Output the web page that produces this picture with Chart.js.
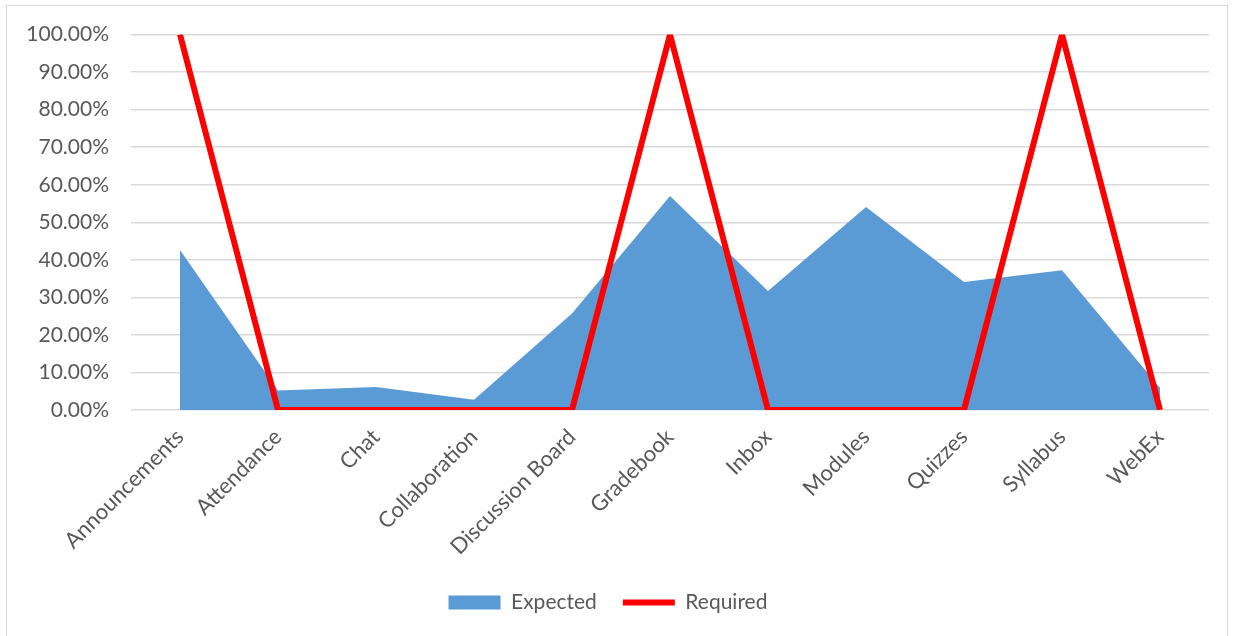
<!DOCTYPE html>
<html>
<head>
<meta charset="utf-8">
<script src="https://cdn.jsdelivr.net/npm/chart.js@4.4.1/dist/chart.umd.min.js"></script>
<style>
  body { margin: 0; background: #fff; }
  #box {
    position: absolute; left: 6px; top: 5px; width: 1222px; height: 640px;
    border: 1px solid #d9d9d9; box-sizing: border-box;
  }
  #wrap { position: absolute; left: 0; top: 0; width: 1220px; height: 638px; }
</style>
</head>
<body>
<div id="box"><div id="wrap"><canvas id="chart"></canvas></div></div>
<script>
// Données du graphique
const categories = ['Announcements', 'Attendance', 'Chat', 'Collaboration', 'Discussion Board',
    'Gradebook', 'Inbox', 'Modules', 'Quizzes', 'Syllabus', 'WebEx'];
const expected = [0.426, 0.052, 0.061, 0.027, 0.257, 0.570, 0.317, 0.541, 0.341, 0.372, 0.059];
const required = [1, 0, 0, 0, 0, 1, 0, 0, 0, 1, 0];

const textColor = '#595959';
const font = "Lato, 'Open Sans', sans-serif";

new Chart(document.getElementById('chart'), {
    type: 'line',
    data: {
        labels: categories,
        datasets: [{
            label: 'Expected',
            data: expected,
            fill: 'origin',
            backgroundColor: '#5b9bd5',
            borderWidth: 0,
            borderColor: 'rgba(0,0,0,0)',
            pointRadius: 0,
            pointStyle: 'rect',
            tension: 0,
            order: 2
        }, {
            label: 'Required',
            data: required,
            fill: false,
            borderColor: '#ff0000',
            backgroundColor: '#ff0000',
            borderWidth: 6,
            pointRadius: 0,
            pointStyle: 'line',
            tension: 0,
            order: 1
        }]
    },
    options: {
        responsive: true,
        maintainAspectRatio: false,
        animation: false,
        layout: { padding: { left: 0, right: 18, top: 22, bottom: 21 } },
        plugins: {
            tooltip: { enabled: false },
            legend: {
                position: 'bottom',
                labels: {
                    usePointStyle: true,
                    pointStyleWidth: 52,
                    boxHeight: 14,
                    padding: 26,
                    color: textColor,
                    font: { family: font, size: 21 },
                    sort: (a, b) => a.datasetIndex - b.datasetIndex
                }
            }
        },
        scales: {
            x: {
                offset: true,
                grid: { display: false },
                border: { display: false },
                afterFit: function (scale) { scale.height = 156; },
                ticks: {
                    color: textColor,
                    minRotation: 45,
                    maxRotation: 45,
                    padding: 6,
                    font: { family: font, size: 22 }
                }
            },
            y: {
                min: 0,
                max: 1,
                grid: { color: '#d9d9d9', lineWidth: 1.5, drawTicks: true, tickLength: 6, tickColor: 'rgba(0,0,0,0)' },
                border: { display: false },
                afterFit: function (scale) { scale.width = 124; },
                ticks: {
                    stepSize: 0.1,
                    color: textColor,
                    padding: 16,
                    font: { family: font, size: 21 },
                    callback: v => (v * 100).toFixed(2) + '%'
                }
            }
        }
    }
});
</script>
</body>
</html>
